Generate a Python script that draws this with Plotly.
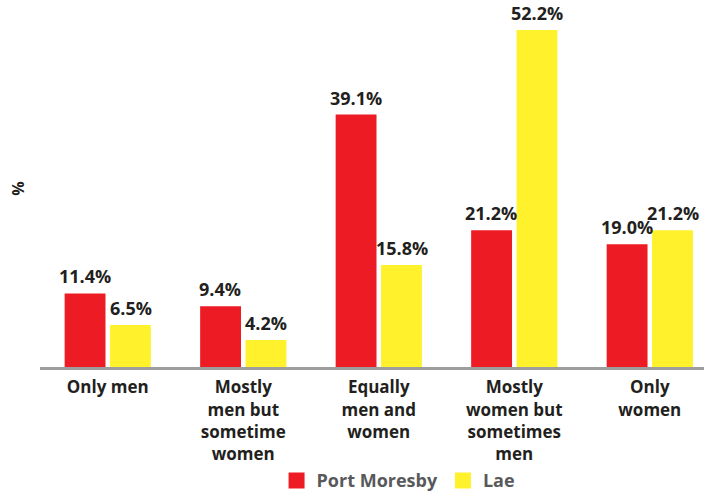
import plotly.graph_objects as go

categories = ["Only men", "Mostly<br>men but<br>sometime<br>women", "Equally<br>men and<br>women",
              "Mostly<br>women but<br>sometimes<br>men", "Only<br>women"]
port_moresby = [11.4, 9.4, 39.1, 21.2, 19.0]
lae = [6.5, 4.2, 15.8, 52.2, 21.2]

FONT = "Open Sans"
RED = "#ED1C24"
YELLOW = "#FFF22D"
fig = go.Figure()
fig.add_trace(go.Bar(x=categories, y=port_moresby, name="Port Moresby", showlegend=False,
                     marker=dict(color=RED, line=dict(width=0))))
fig.add_trace(go.Bar(x=categories, y=lae, name="Lae", showlegend=False,
                     marker=dict(color=YELLOW, line=dict(width=0))))
# legend proxies (bigger square swatches)
for name, col in (("Port Moresby", RED), ("Lae", YELLOW)):
    fig.add_trace(go.Scatter(x=[None], y=[None], mode="markers", name=name,
                             marker=dict(symbol="square", size=22, color=col)))

annotations = []
for series, shift in ((port_moresby, -23), (lae, 23)):
    for c, v in zip(categories, series):
        annotations.append(dict(x=c, y=v, xref="x", yref="y", text=f"<b>{v:.1f}%</b>",
                                showarrow=False, xshift=shift, yshift=3, yanchor="bottom",
                                font=dict(family=FONT, size=18, color="#231F20")))

fig.update_layout(
    width=704, height=493, barmode="group", bargap=0.33, bargroupgap=0.1,
    margin=dict(l=40, r=0, t=10, b=126),
    plot_bgcolor="white", paper_bgcolor="white",
    font=dict(family=FONT, size=18, color="#231F20"),
    annotations=annotations,
    xaxis=dict(range=[-0.5, 4.4], showline=True, linecolor="#9D9D9D", linewidth=3,
               automargin=False, ticklabelstandoff=3,
               ticks="", tickfont=dict(family=FONT, size=17, color="#231F20", weight="bold")),
    yaxis=dict(range=[0, 55.3], showgrid=False, zeroline=False, showticklabels=False, ticks="",
               automargin=False,
               title=dict(text="<b>%</b>", font=dict(family=FONT, size=16, color="#231F20"), standoff=10)),
    legend=dict(orientation="h", x=0.54, xanchor="center", yref="container", y=0.025, yanchor="middle",
                font=dict(family=FONT, size=18, color="#58595B", weight="bold"),
                itemsizing="trace", itemwidth=30),
    showlegend=True,
)
fig.write_html("out.html", post_script="document.body.style.margin='0';",
               config={"displayModeBar": False})
